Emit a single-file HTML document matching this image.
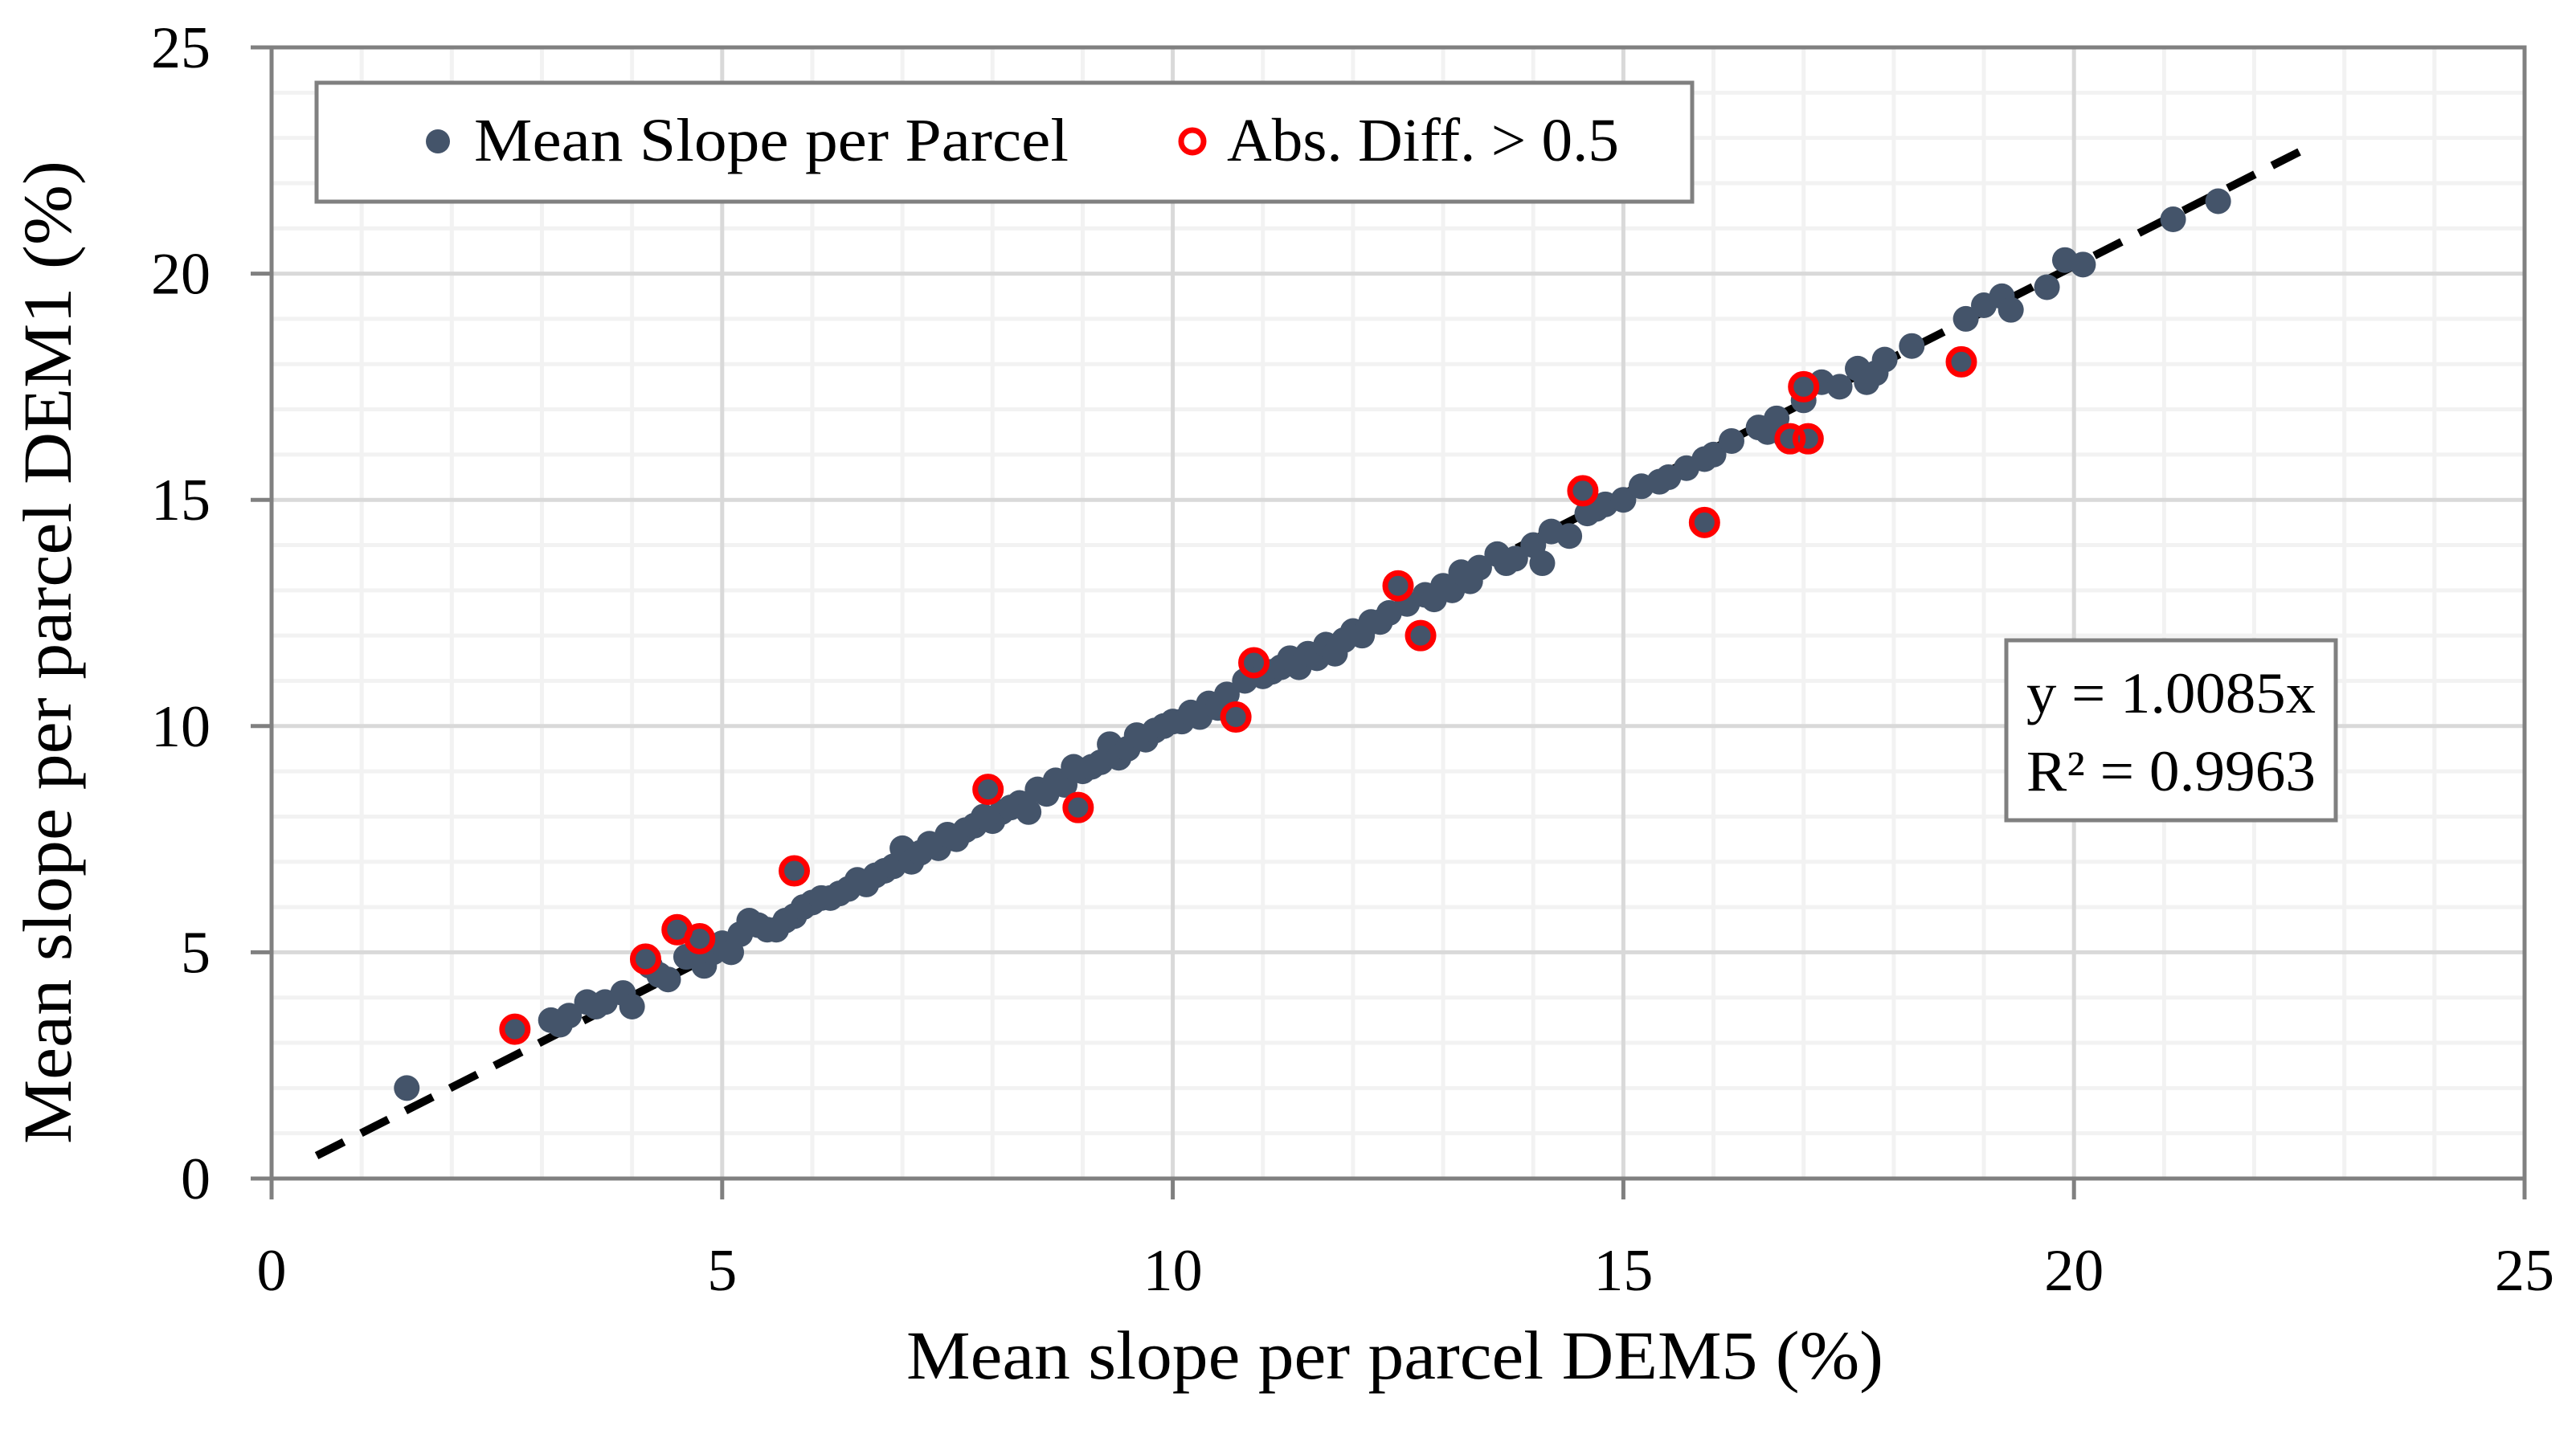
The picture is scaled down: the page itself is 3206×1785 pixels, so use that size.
<!DOCTYPE html>
<html><head><meta charset="utf-8"><style>
body{margin:0;background:#fff}
svg text{font-family:"Liberation Serif",serif;fill:#000}
</style></head><body>
<svg id="chart" width="3206" height="1780" xmlns="http://www.w3.org/2000/svg">
<rect width="3206" height="1780" fill="#fff"/>
<g id="grid"></g>
<g id="ticks"></g>
<g id="trend"></g>
<g id="pts"></g>
<g id="axes"></g>
<g>
<rect x="394" y="103" width="1712" height="148" fill="#fff" stroke="#808080" stroke-width="5"/>
<circle cx="545" cy="176" r="15" fill="#44546a"/>
<text x="590" y="200" font-size="76" textLength="740" lengthAdjust="spacingAndGlyphs">Mean Slope per Parcel</text>
<circle cx="1484" cy="176" r="14" fill="#fff" stroke="#ff0000" stroke-width="7"/>
<text x="1527" y="200" font-size="76" textLength="488" lengthAdjust="spacingAndGlyphs">Abs. Diff. &gt; 0.5</text>
</g>
<g>
<rect x="2497" y="797" width="410" height="224" fill="#fff" stroke="#808080" stroke-width="5"/>
<text x="2522" y="887" font-size="72" textLength="360" lengthAdjust="spacingAndGlyphs">y = 1.0085x</text>
<text x="2522" y="984" font-size="72" textLength="360" lengthAdjust="spacingAndGlyphs">R² = 0.9963</text>
</g>
<text transform="translate(88,812) rotate(-90)" text-anchor="middle" font-size="86" textLength="1224" lengthAdjust="spacingAndGlyphs">Mean slope per parcel DEM1 (%)</text>
<text x="1736" y="1716" text-anchor="middle" font-size="86" textLength="1216" lengthAdjust="spacingAndGlyphs">Mean slope per parcel DEM5 (%)</text>
</svg>
<script>
const xTicks=[0,5,10,15,20,25];
const yTicks=[0,5,10,15,20,25];
const meanX=[1.5,2.7,3.1,3.2,3.3,3.5,3.6,3.7,3.9,4.0,4.15,4.2,4.3,4.4,4.5,4.6,4.75,4.8,4.9,5.0,5.1,5.2,5.3,5.4,5.5,5.6,5.7,5.8,5.8,5.9,6.0,6.1,6.2,6.3,6.4,6.5,6.6,6.7,6.8,6.9,7.0,7.1,7.2,7.3,7.4,7.5,7.6,7.7,7.8,7.95,7.9,8.0,8.1,8.2,8.3,8.4,8.5,8.6,8.7,8.8,8.9,8.95,9.0,9.1,9.2,9.3,9.4,9.5,9.6,9.7,9.8,9.9,10.0,10.1,10.2,10.3,10.4,10.5,10.6,10.7,10.8,10.9,11.0,11.1,11.2,11.3,11.4,11.5,11.6,11.7,11.8,11.9,12.0,12.1,12.2,12.3,12.4,12.5,12.6,12.75,12.8,12.9,13.0,13.1,13.2,13.3,13.4,13.6,13.7,13.8,14.0,14.1,14.2,14.4,14.55,14.6,14.7,14.8,15.0,15.2,15.4,15.5,15.7,15.9,15.9,16.0,16.2,16.5,16.6,16.7,16.8,16.85,17.0,17.05,17.0,17.2,17.4,17.6,17.7,17.8,17.9,18.2,18.75,18.8,19.0,19.2,19.3,19.7,19.9,20.1,21.1,21.6];
const meanY=[2.0,3.3,3.5,3.4,3.6,3.9,3.8,3.9,4.1,3.8,4.85,4.7,4.5,4.4,5.5,4.9,5.3,4.7,5.0,5.2,5.0,5.4,5.7,5.6,5.5,5.5,5.7,5.8,6.8,6.0,6.1,6.2,6.2,6.3,6.4,6.6,6.5,6.7,6.8,6.9,7.3,7.0,7.2,7.4,7.3,7.6,7.5,7.7,7.8,8.6,8.0,7.9,8.1,8.2,8.3,8.1,8.6,8.5,8.8,8.7,9.1,8.2,9.0,9.1,9.2,9.6,9.3,9.5,9.8,9.7,9.9,10.0,10.1,10.1,10.3,10.2,10.5,10.4,10.7,10.2,11.0,11.4,11.1,11.2,11.3,11.5,11.3,11.6,11.5,11.8,11.6,11.9,12.1,12.0,12.3,12.3,12.5,13.1,12.7,12.0,12.9,12.8,13.1,13.0,13.4,13.2,13.5,13.8,13.6,13.7,14.0,13.6,14.3,14.2,15.2,14.7,14.8,14.9,15.0,15.3,15.4,15.5,15.7,15.9,14.5,16.0,16.3,16.6,16.5,16.8,16.4,16.35,17.2,16.35,17.5,17.6,17.5,17.9,17.6,17.8,18.1,18.4,18.05,19.0,19.3,19.5,19.2,19.7,20.3,20.2,21.2,21.6];
const diffX=[2.7,4.15,4.5,4.75,5.8,7.95,8.95,10.7,10.9,12.5,12.75,14.55,15.9,16.85,17.05,17.0,18.75];
const diffY=[3.3,4.85,5.5,5.3,6.8,8.6,8.2,10.2,11.4,13.1,12.0,15.2,14.5,16.35,16.35,17.5,18.05];
const trendSlope=1.0085;
const trendRange=[0.5,22.5];
const X0=338,X1=3142,YT=59,YB=1467;
const sx=v=>X0+(X1-X0)*v/25;
const sy=v=>YB-(YB-YT)*v/25;
const NS='http://www.w3.org/2000/svg';
function mk(tag,parent,attrs){const e=document.createElementNS(NS,tag);for(const k in attrs)e.setAttribute(k,attrs[k]);parent.appendChild(e);return e;}
const grid=document.getElementById('grid');
for(let i=1;i<25;i++){
 if(i%5===0)continue;
 let l=mk('line',grid,{x1:sx(i),x2:sx(i),y1:YT,y2:YB,stroke:'#f2f2f2','stroke-width':5});
 
 
 l=mk('line',grid,{x1:X0,x2:X1,y1:sy(i),y2:sy(i),stroke:'#f2f2f2','stroke-width':5});
 
 
}
xTicks.forEach(t=>{if(t>0&&t<25){const l=mk('line',grid,{x1:sx(t),x2:sx(t),y1:YT,y2:YB,stroke:'#d9d9d9','stroke-width':5});
 
 }});
yTicks.forEach(t=>{if(t>0&&t<25){const l=mk('line',grid,{x1:X0,x2:X1,y1:sy(t),y2:sy(t),stroke:'#d9d9d9','stroke-width':5});
 
 }});
const tk=document.getElementById('ticks');
xTicks.forEach(t=>{
 const l=mk('line',tk,{x1:sx(t),x2:sx(t),y1:YB,y2:YB+26,stroke:'#808080','stroke-width':5});
 
 
 const tx=mk('text',tk,{x:sx(t),y:1606,'text-anchor':'middle','font-size':74});
 tx.textContent=t;
 
 
});
yTicks.forEach(t=>{
 const l=mk('line',tk,{x1:X0-26,x2:X0,y1:sy(t),y2:sy(t),stroke:'#808080','stroke-width':5});
 
 
 const tx=mk('text',tk,{x:262,y:sy(t)+25,'text-anchor':'end','font-size':74});
 tx.textContent=t;
 
 
});
const ax=document.getElementById('axes');
const fr=mk('rect',ax,{x:X0,y:YT,width:X1-X0,height:YB-YT,fill:'none',stroke:'#808080','stroke-width':5});


const tr=document.getElementById('trend');
const tl=mk('line',tr,{x1:sx(trendRange[0]),y1:sy(trendRange[0]*trendSlope),x2:sx(trendRange[1]),y2:sy(trendRange[1]*trendSlope),stroke:'#000','stroke-width':10,'stroke-dasharray':'38 24'});


const pts=document.getElementById('pts');
meanX.forEach((x,i)=>{
 const c=mk('circle',pts,{cx:sx(x),cy:sy(meanY[i]),r:16,fill:'#44546a'});
 
 
});
diffX.forEach((x,i)=>{
 const c=mk('circle',pts,{cx:sx(x),cy:sy(diffY[i]),r:16,fill:'none',stroke:'#ff0000','stroke-width':7});
 
 
});
</script>
</body></html>
